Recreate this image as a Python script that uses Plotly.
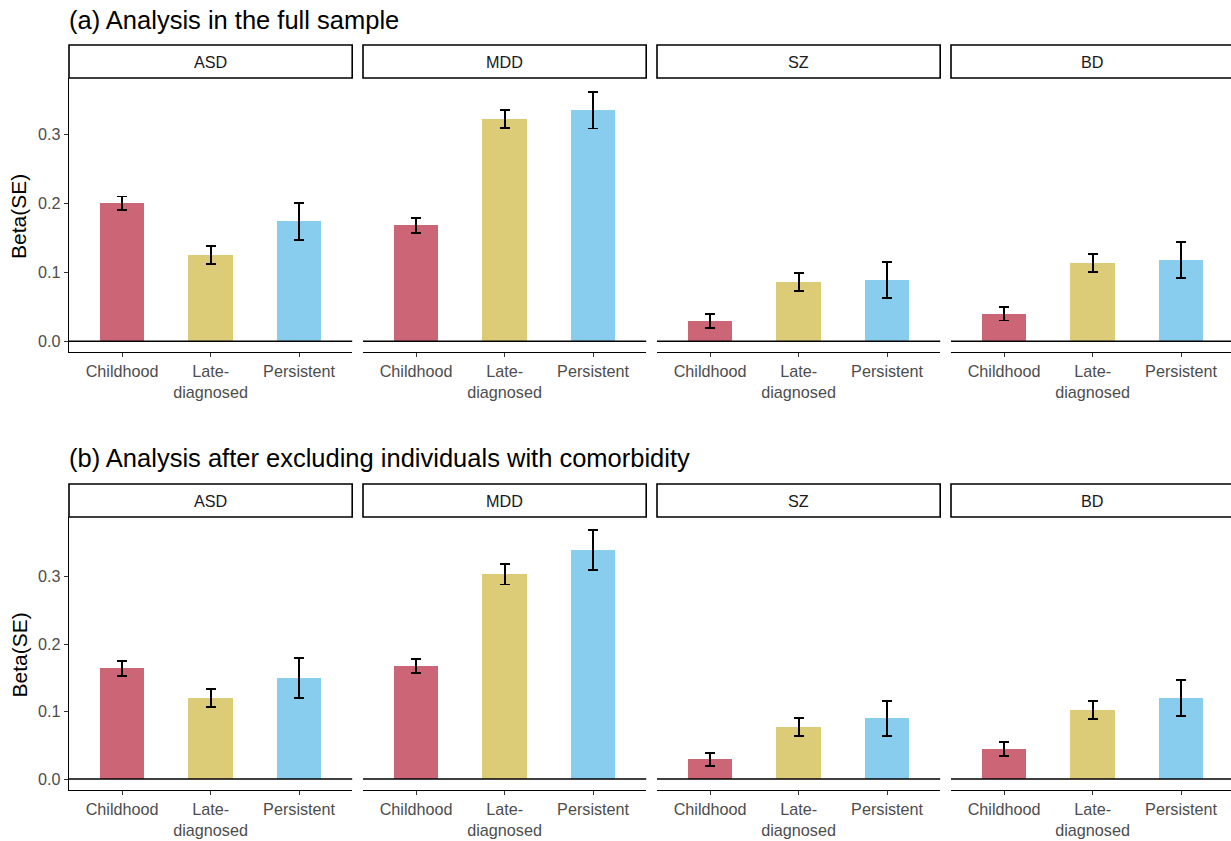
import plotly.graph_objects as go

# ---------------- data ----------------
disorders = ["ASD", "MDD", "SZ", "BD"]
groups = ["Childhood", "Late-diagnosed", "Persistent"]
group_labels = ["Childhood", "Late-<br>diagnosed", "Persistent"]
colors = ["#CC6677", "#DDCC77", "#88CCEE"]

# (a) full sample
beta_a_ASD = [0.200, 0.125, 0.174]
beta_a_MDD = [0.168, 0.322, 0.335]
beta_a_SZ = [0.029, 0.086, 0.089]
beta_a_BD = [0.040, 0.114, 0.118]
se_a_ASD = [0.0100, 0.0130, 0.0270]
se_a_MDD = [0.0107, 0.0134, 0.0266]
se_a_SZ = [0.0100, 0.0128, 0.0260]
se_a_BD = [0.0099, 0.0130, 0.0264]

# (b) excluding comorbidity
beta_b_ASD = [0.164, 0.120, 0.150]
beta_b_MDD = [0.168, 0.304, 0.340]
beta_b_SZ = [0.029, 0.077, 0.090]
beta_b_BD = [0.044, 0.102, 0.120]
se_b_ASD = [0.0110, 0.0135, 0.0297]
se_b_MDD = [0.0105, 0.0155, 0.0297]
se_b_SZ = [0.0101, 0.0134, 0.0260]
se_b_BD = [0.0104, 0.0134, 0.0265]

yticks = [0.0, 0.1, 0.2, 0.3]
ytick_labels = ["0.0", "0.1", "0.2", "0.3"]

titles = ["(a) Analysis in the full sample",
          "(b) Analysis after excluding individuals with comorbidity"]

rows = [
    {"beta": [beta_a_ASD, beta_a_MDD, beta_a_SZ, beta_a_BD],
     "se": [se_a_ASD, se_a_MDD, se_a_SZ, se_a_BD]},
    {"beta": [beta_b_ASD, beta_b_MDD, beta_b_SZ, beta_b_BD],
     "se": [se_b_ASD, se_b_MDD, se_b_SZ, se_b_BD]},
]

# ---------------- layout geometry (pixels) ----------------
W, H = 1231, 841
FONT = "Liberation Sans, Arial, sans-serif"
TICK_SIZE = 16.2
panel_left = [69, 363, 657, 951]
panel_w = 283.2
px_unit = panel_w / 3.2
row_geom = [
    {"title_y": 20, "strip": (45, 78), "panel": (78, 352), "yrange": [-0.0155, 0.3816]},
    {"title_y": 458, "strip": (484, 517), "panel": (517, 790), "yrange": [-0.0163, 0.3887]},
]

def px(x):
    return x / W

def py(y):
    return 1 - y / H

fig = go.Figure()
shapes = []
annotations = []
layout_axes = {}

n = 0
for r, row in enumerate(rows):
    g = row_geom[r]
    for c, dis in enumerate(disorders):
        n += 1
        xa = "x" if n == 1 else f"x{n}"
        ya = "y" if n == 1 else f"y{n}"
        xkey = "xaxis" if n == 1 else f"xaxis{n}"
        ykey = "yaxis" if n == 1 else f"yaxis{n}"
        left = panel_left[c]
        right = min(left + panel_w, W)
        xr_end = -0.6 + (right - left) / px_unit

        beta = row["beta"][c]
        se = row["se"][c]
        fig.add_trace(go.Bar(
            x=list(range(3)), y=beta,
            width=0.5,
            marker=dict(color=colors, line=dict(width=0)),
            error_y=dict(type="data", array=se, visible=True,
                         color="black", thickness=1.8, width=5),
            xaxis=xa, yaxis=ya, showlegend=False,
        ))

        layout_axes[xkey] = dict(
            domain=[px(left), px(right)],
            anchor=ya,
            range=[-0.6, xr_end],
            tickmode="array", tickvals=list(range(3)), ticktext=group_labels,
            showline=True, linecolor="black", linewidth=1.4,
            ticks="outside", ticklen=4, tickwidth=1.2, tickcolor="#333333",
            tickfont=dict(family=FONT, size=TICK_SIZE, color="#4D4D4D"),
            showgrid=False, zeroline=False, fixedrange=True,
        )
        ydict = dict(
            domain=[py(g["panel"][1]), py(g["panel"][0])],
            anchor=xa,
            range=g["yrange"],
            showgrid=False, zeroline=False, fixedrange=True,
        )
        if c == 0:
            ydict.update(
                showline=True, linecolor="black", linewidth=1.4,
                ticks="outside", ticklen=4, tickwidth=1.2, tickcolor="#333333",
                tickmode="array", tickvals=yticks, ticktext=ytick_labels,
                tickfont=dict(family=FONT, size=TICK_SIZE, color="#4D4D4D"),
            )
        else:
            ydict.update(showline=False, showticklabels=False, ticks="")
        layout_axes[ykey] = ydict

        # horizontal reference line at 0
        shapes.append(dict(type="line", xref=f"{xa} domain", yref=ya,
                           x0=0, x1=1, y0=0, y1=0,
                           line=dict(color="black", width=1.4)))
        # strip box
        s0, s1 = g["strip"]
        shapes.append(dict(type="rect", xref="paper", yref="paper",
                           x0=px(left), x1=px(left + panel_w),
                           y0=py(s1), y1=py(s0),
                           line=dict(color="black", width=1.6),
                           fillcolor="white", layer="above"))
        annotations.append(dict(text=dis, xref="paper", yref="paper",
                                x=px(left + panel_w / 2), y=py((s0 + s1) / 2),
                                xanchor="center", yanchor="middle",
                                showarrow=False,
                                font=dict(family=FONT, size=TICK_SIZE, color="#1A1A1A")))

    # row title
    annotations.append(dict(text=titles[r], xref="paper", yref="paper",
                            x=px(67), y=py(g["title_y"]),
                            xanchor="left", yanchor="middle", showarrow=False,
                            font=dict(family=FONT, size=25.5, color="black")))
    # y axis title
    p0, p1 = g["panel"]
    annotations.append(dict(text="Beta(SE)", xref="paper", yref="paper",
                            x=px(19), y=py((p0 + p1) / 2 + 2),
                            xanchor="center", yanchor="middle", textangle=-90,
                            showarrow=False,
                            font=dict(family=FONT, size=21, color="black")))

fig.update_layout(
    width=W, height=H,
    margin=dict(l=0, r=0, t=0, b=0),
    paper_bgcolor="white", plot_bgcolor="white",
    shapes=shapes, annotations=annotations,
    bargap=0, showlegend=False,
    **layout_axes,
)

fig.write_html(
    "out.html",
    config={"displayModeBar": False},
    post_script="document.body.style.margin='0px';document.body.style.overflow='hidden';",
)
